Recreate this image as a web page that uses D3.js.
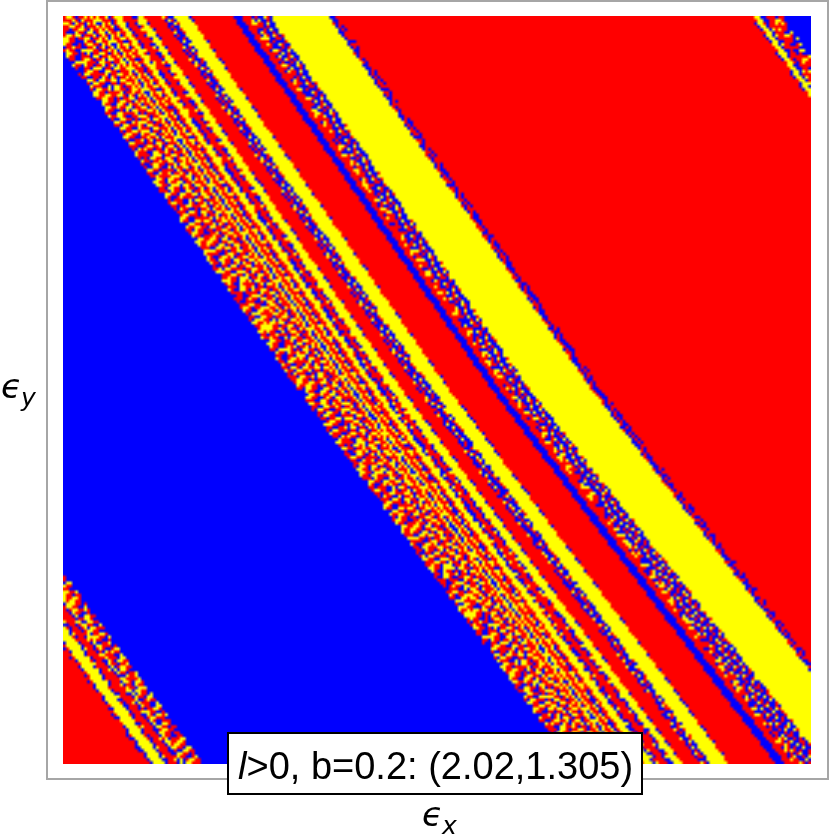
<!DOCTYPE html>
<html>
<head>
<meta charset="utf-8">
<script src="https://d3js.org/d3.v7.min.js"></script>
<style>
    body { margin: 0; background: #fff; }
    #chart { position: relative; width: 830px; height: 835px; }
    #chart canvas, #chart svg { position: absolute; }
</style>
</head>
<body>
<div id="chart"></div>
<script>
// band edges as read off the picture, measured from the plot's left side,
// at the top, middle and bottom row of the plot
var edgeTop = [-450,-445,-433,-428,-420,-415,-413,-395,-24,-1,
    23,26,29,33,36,41,43,47,50,56,60,68,73,80,82,97,110,126,128,169,177,183,189,207,265,274,
    687,690,696,702,707,719];
var edgeMid = [-188,-183,-171,-166,-158,-153,-151,-133,235,259,
    282,285,288,292,295,300,302,306,309,315,321,325,328,339,341,355,370,386,388,429,437,443,450,467,529,539,
    952,955,961,967,972,984];
var edgeBot = [85,90,102,107,115,120,122,140,509,531,
    555,558,561,565,568,573,575,579,582,591,597,605,611,619,621,637,648,666,668,713,723,730,737,763,819,828,
    1267,1270,1276,1282,1287,1299];
// r y b are solid, D F M E are the speckled zones; bandKinds[i] sits left of edge i
var bandKinds = ["r",
    "E","y","M","r","M","y","D","b","D","F",
    "r","y","M","y","r","y","M","r","y","M","r","M","y","E","r","M","y","E","r","b","r","D","M","y","E","r",
    "E","y","M","r","D","b"];

// speckle patches copied by eye from the chaotic zones
var coarseTile = [
    "rryyrrbbrryyyrrbrryyrrrbyyrrybbrrryyrrbr",
    "ryyrrbrrryyrrbbryyrrbrryyrrbrrrryyrbrryy",
    "yyrrbbryyrrbrrryyrrbbryyrrbbyyrrrbrryyrr",
    "yrrbyyyyrrbbrryrrbyyyrrrbrryyrrbbryyrrby",
    "rrbyyrryrrbyyyrrbbyrryyrrbyyrrbryyrrbbyy",
    "rbbyrrrrbbyyrrbrryrrrryrbbyrrbbyyrrbyyyr",
    "bryyrbbryyrrbbrrrbyyrrrrbryyrrrbrrbyyrrr",
    "ryyrrrbyyrrrryyrbbyyrbbrryyrbbrrryyrrrbb",
    "yyrrbbyyrbbryyrrbyyrrbyyyrrrrbbyyrrbbryy",
    "yrrbbryyrrbyyrrrbyrrbyyrrbbyyrryyrbbryyr",
    "rrbyyryrrbyyrrbbrrrbryrrbbyyrryyrrbryyrr",
    "rbyyrrrrbyrrrbbyyrbbrrrbbyyrrbyrrbrryrrb",
    "byyrrbrbbrrybyyrrrbyyrbbryrrbbrrbyyrrrbb",
    "yyrrbbrrryyyyrrbbyyrrrbrrrbbyyrbyyrrbbyy",
    "yrrbyyrryyrrrrbbyyrbbrryyrryyrrbyrrbbyyr",
    "rrbyyrryyrrbbryyrrbrryyyrryyrrbrrrbyyyrr",
    "rbbyrrbyrrbyyyyrrbyyyrrrbyrrbbrryyyrrbbr",
    "brrrrbbrrbyyrryrbbyrrbbbrrrbyyryyrrbbrry",
    "ryyrbbyyyyrrbrrrbyyrbyyrrbbyyrryrrbyyrry",
    "yyrrbyyrrrrbbryyyyrrbyrrbbyyrrbbrbyyrryy",
    "yrrbyyrrbbrrbyyrrrrbrrrbyyrrbbyyrbyrrbyr",
    "rbbyyrrbyyrbyyrbbrrbbryyyrbbyyrrbrrbbyrr",
    "brryrrbbyrrbyrrbyyrrrbyrrbyyrrbbyyrrbbrr",
    "ryrrbbyyrrbbrrbyyrrbyyrrbyyrrbyyrrbbyyyr"
];
var fineTile = [
    "ryyrbrryyrybrryyrbyrryybrryrybyyrrbryyrb",
    "yrryrbyrryrrbyrryryybrrybyyrrbrrybrryrry",
    "ryrbyrrbyyrbyybrrbyrrybyrryybrryyrbyrbyr",
    "bryyrrybrrybrryyrrbryrrbyrbrryyrbrryybrr",
    "yybrryyrbyrrybrbyyrryybrryrbyrrbyyrrbyry",
    "rrybyrrbyybrryyrrybrbrryyrryybrryrbyrryb",
    "ybrryybrrrybyrbrryyrryybrbrrybyyrryybrry",
    "ryyrbrryybrrybyyrbrrbyrryybrryrrbyrbyyrr",
    "brryyrbyrrbyyrrybrryyrbrrbyyrbyyrrbrrybr",
    "yrbrrybryyrrbyrbyyrrbyyrbrryrrbrybyyrryy",
    "rybyyrrbrrybrybrrybyrrbyyrbyybrryrrbyrbr",
    "yrrbryybyyrrbrryybrryybrrybrryybyyrbrryy",
    "byyrrbrrybrryyrbyrrbrryyrbyyrrbrryybrbyr",
    "rrbyyrryrbyybrryrbyyrbyrrbrrybyyrbrryyrr",
    "yybrrbyrrybrrybyyrrbyrrbyyrryrbrrybyrrby",
    "rryybrryybrbyyrrbrryybrryrbyybrryyrbryyr",
    "byrrybyrrbyrrybrybyrrybyyrrbrrybrrybyrrb",
    "ryybrrbyyrryybrrbyyrbrrbrybyyrrbyyrrbyyr",
    "yrrbyyrbrrbyrbyyrrbrryybrrbrryybrybrrybr",
    "rbyrrybryybrrrybrryyrbyrryyrbrrbyrrybyry",
    "yyrbrrbyrrybyyrbyrbrrybrbyrryybrryyrbrry",
    "brryyrryrbrrbyrryybyyrrbyrbrrbyyrbrrybyr",
    "ryrbyybrryyrbrybrrbrryyrbyyrrybrrybyyrrb",
    "yrbrrybyyrbryyrrbyyrbrryrrbyyrbyrryrbrry"
];
var mixedTile = [
    "brbybrrbbyrbbrybrbbyrbrb",
    "rbbrybbrbrbyrbbrbybbrbyb",
    "byrbbrybbrrbbyrbbrrbybbr",
    "bbrbyrbbybrbrbbybbrbrbby",
    "rbybbrbrbbybbrbrybbrbybb",
    "ybbrbbyrbrbbrybbrbyrbbrb",
    "brbbyrbbrybbrbrbbybbrbyr",
    "rbybrbbybbrbyrbbrbrbybbr",
    "bbrbbrybrbbybbrbybbrbbrb",
    "yrbbybbrbyrbrbbrbbybrybb",
    "brbrbbybbrbbybrbybrbbrbb",
    "rbbybrbrybbrbbrbbrbybbry",
    "bybrbbrbbrybyrbbybrbrbbr",
    "rbbrybbybrbbrbbrybbrbybb",
    "bbyrbrbbrbybbrbybbyrbbrb",
    "brbbrbybbyrbrbbrbrbbybrb"
];

var colors = d3.scaleOrdinal(["r", "y", "b"], ["#ff0000", "#ffff00", "#0000ff"]);
var tiles = {D: coarseTile, F: fineTile, M: mixedTile, E: mixedTile};

var gridSize = 250;
var plotSize = 748;
var plotLeft = 63;
var plotTop = 16;

var x = d3.scaleLinear().domain([0, plotSize]).range([0, gridSize]);
var y = d3.scaleLinear().domain([0, plotSize]).range([0, gridSize]);

// one piecewise scale per edge: row position -> edge position
var edges = edgeTop.map((t, i) => d3.scaleLinear()
    .domain([0, plotSize / 2, plotSize])
    .range([t, edgeMid[i], edgeBot[i]]));

function cell_kind(col, row){
    let px = x.invert(col + 0.5);
    let py = y.invert(row + 0.5);
    let band = d3.bisectRight(edges.map(e => e(py)), px);
    let kind = bandKinds[band];
    let tile = tiles[kind];
    if(!tile){
        return kind;
    }
    // walk the coarse patch two rows at a time out of order, so its diagonals don't show
    let rowIndex = kind === "D" ? (Math.floor(row / 2) * 14 + row % 2) : row;
    let line = tile[rowIndex % tile.length];
    let k = line[(col + 13 * Math.floor(row / tile.length)) % line.length];
    return (kind === "E" && k === "y") ? "r" : k;
}

// paint the cells small, then let the browser scale them up (the reference is soft too)
var small = d3.create("canvas").attr("width", gridSize).attr("height", gridSize).node();
var smallCtx = small.getContext("2d");
d3.range(gridSize).forEach(row => {
    d3.range(gridSize).forEach(col => {
        smallCtx.fillStyle = colors(cell_kind(col, row));
        smallCtx.fillRect(col, row, 1, 1);
    });
});

var canvas = d3.select("#chart").append("canvas")
    .attr("width", plotSize)
    .attr("height", plotSize)
    .style("left", plotLeft + "px")
    .style("top", plotTop + "px")
    .node();
var ctx = canvas.getContext("2d");
ctx.imageSmoothingEnabled = true;
ctx.drawImage(small, 0, 0, plotSize, plotSize);

var svg = d3.select("#chart").append("svg")
    .attr("width", 830)
    .attr("height", 835)
    .style("left", "0px")
    .style("top", "0px");

// frame
svg.append("rect")
    .attr("x", 47).attr("y", 1)
    .attr("width", 781).attr("height", 778)
    .attr("fill", "none")
    .attr("stroke", "#a6a6a6")
    .attr("stroke-width", 2);

// label box
svg.append("rect")
    .attr("x", 228).attr("y", 733)
    .attr("width", 414).attr("height", 61)
    .attr("fill", "#fff")
    .attr("stroke", "#000")
    .attr("stroke-width", 2);
var label = svg.append("text")
    .attr("x", 238).attr("y", 779)
    .attr("font-family", "Liberation Sans")
    .attr("font-size", 38)
    .attr("fill", "#000");
label.append("tspan").attr("font-style", "italic").text("l");
label.append("tspan").text(">0, b=0.2: (2.02,1.305)");

// axis titles
function axis_title(px, py, sub){
    let t = svg.append("text")
        .attr("x", px).attr("y", py)
        .attr("font-family", "DejaVu Sans")
        .attr("font-style", "italic")
        .attr("font-size", 34)
        .attr("fill", "#000");
    t.append("tspan").text("\u03f5");
    t.append("tspan").attr("font-size", 25).attr("dy", 8).attr("dx", -1).text(sub);
}
axis_title(422, 826, "x");
axis_title(1, 398, "y");
</script>
</body>
</html>
